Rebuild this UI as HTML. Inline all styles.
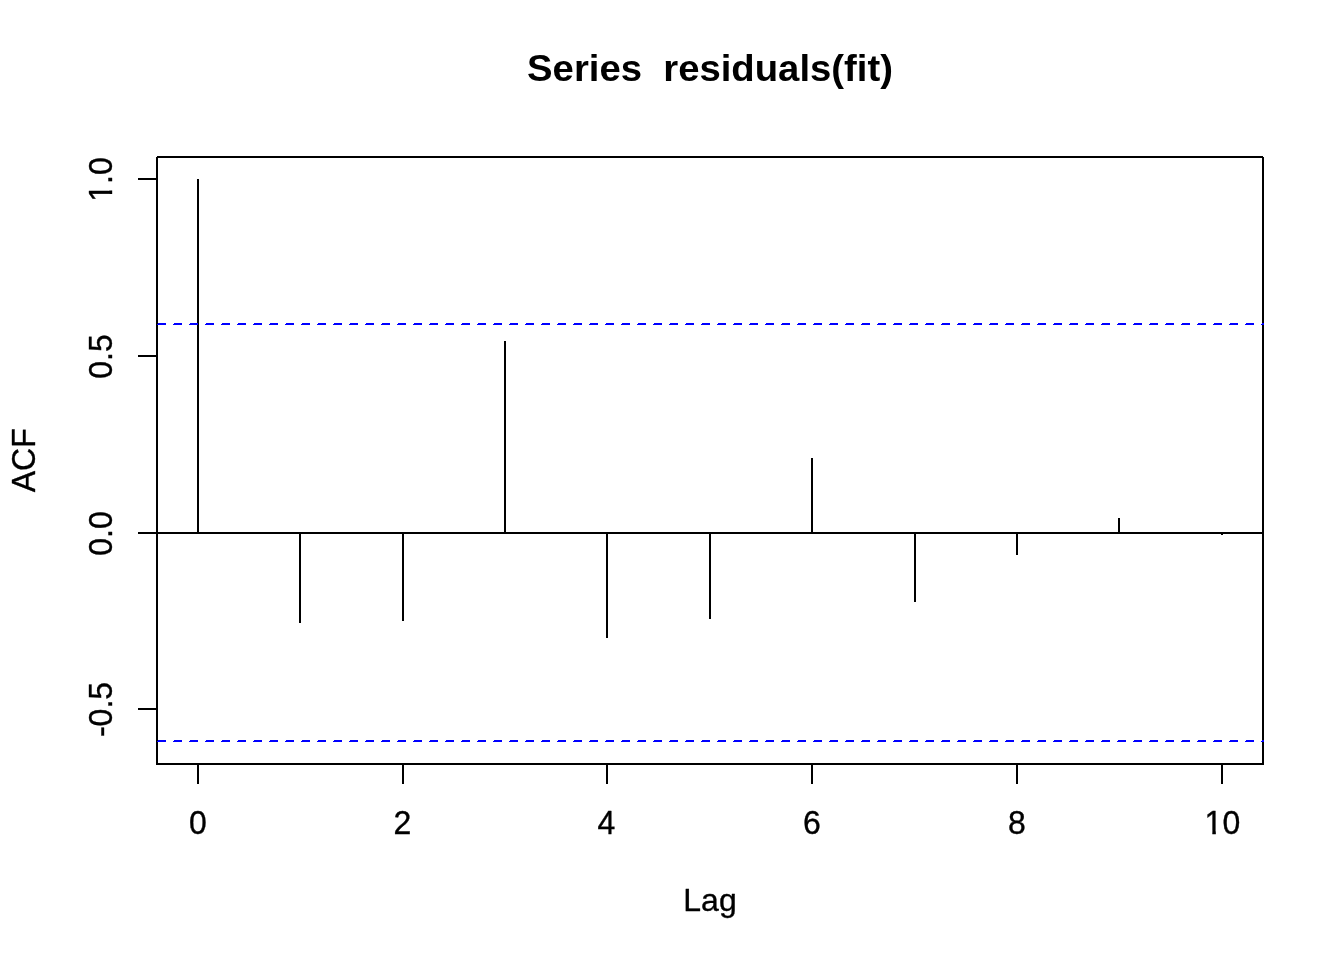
<!DOCTYPE html>
<html lang="en"><head><meta charset="utf-8"><title>Series residuals(fit)</title>
<style>
html,body{margin:0;padding:0;background:#fff;}
body{width:1344px;height:960px;overflow:hidden;}
svg{display:block;}
text{font-family:"Liberation Sans",sans-serif;fill:#000;}
.ax{font-size:32px;stroke:#000;stroke-width:0.35px;stroke-linejoin:round;}
.ttl{font-size:37.33px;font-weight:bold;white-space:pre;}
</style></head><body>
<svg width="1344" height="960" viewBox="0 0 1344 960">
<defs>
<!-- trims the foot serif of the digit 1 so it reads like the reference face -->
<clipPath id="c10"><rect x="-20" y="-30" width="40" height="26.8"/><rect x="-10.05" y="-5" width="3.45" height="6"/><rect x="-0.6" y="-5" width="22" height="7"/></clipPath>
<clipPath id="c1p0"><rect x="-25" y="-30" width="50" height="26.8"/><rect x="-14.5" y="-5" width="3.45" height="6"/><rect x="-5" y="-5" width="30" height="7"/></clipPath>
</defs>
<rect x="0" y="0" width="1344" height="960" fill="#fff"/>
<g shape-rendering="crispEdges">
<g fill="#000">
<rect x="197" y="179" width="2" height="354"/>
<rect x="299" y="533" width="2" height="90"/>
<rect x="402" y="533" width="2" height="88"/>
<rect x="504" y="341" width="2" height="192"/>
<rect x="606" y="533" width="2" height="105"/>
<rect x="709" y="533" width="2" height="86"/>
<rect x="811" y="458" width="2" height="75"/>
<rect x="914" y="533" width="2" height="69"/>
<rect x="1016" y="533" width="2" height="22"/>
<rect x="1118" y="518" width="2" height="15"/>
<rect x="1221" y="533" width="2" height="2"/>
<rect x="156" y="532" width="1107" height="2"/>
<rect x="157" y="156" width="1106" height="1"/>
<rect x="156" y="157" width="1108" height="1"/>
<rect x="156" y="763" width="1108" height="2"/>
<rect x="156" y="157" width="2" height="608"/>
<rect x="1262" y="157" width="2" height="608"/>
<rect x="197" y="763" width="2" height="21"/>
<rect x="402" y="763" width="2" height="21"/>
<rect x="606" y="763" width="2" height="21"/>
<rect x="811" y="763" width="2" height="21"/>
<rect x="1016" y="763" width="2" height="21"/>
<rect x="1221" y="763" width="2" height="21"/>
<rect x="138" y="178" width="20" height="2"/>
<rect x="138" y="355" width="20" height="2"/>
<rect x="138" y="532" width="20" height="2"/>
<rect x="138" y="708" width="20" height="2"/>
</g>
<g fill="#0000ff"><rect x="158" y="323" width="8" height="1"/><rect x="157" y="324" width="9" height="1"/><rect x="174" y="323" width="8" height="1"/><rect x="173" y="324" width="9" height="1"/><rect x="190" y="323" width="8" height="1"/><rect x="189" y="324" width="9" height="1"/><rect x="206" y="323" width="8" height="1"/><rect x="205" y="324" width="9" height="1"/><rect x="222" y="323" width="8" height="1"/><rect x="221" y="324" width="9" height="1"/><rect x="238" y="323" width="8" height="1"/><rect x="237" y="324" width="9" height="1"/><rect x="254" y="323" width="8" height="1"/><rect x="253" y="324" width="9" height="1"/><rect x="270" y="323" width="8" height="1"/><rect x="269" y="324" width="9" height="1"/><rect x="286" y="323" width="8" height="1"/><rect x="285" y="324" width="9" height="1"/><rect x="302" y="323" width="8" height="1"/><rect x="301" y="324" width="9" height="1"/><rect x="318" y="323" width="8" height="1"/><rect x="317" y="324" width="9" height="1"/><rect x="334" y="323" width="8" height="1"/><rect x="333" y="324" width="9" height="1"/><rect x="350" y="323" width="8" height="1"/><rect x="349" y="324" width="9" height="1"/><rect x="366" y="323" width="8" height="1"/><rect x="365" y="324" width="9" height="1"/><rect x="382" y="323" width="8" height="1"/><rect x="381" y="324" width="9" height="1"/><rect x="398" y="323" width="8" height="1"/><rect x="397" y="324" width="9" height="1"/><rect x="414" y="323" width="8" height="1"/><rect x="413" y="324" width="9" height="1"/><rect x="430" y="323" width="8" height="1"/><rect x="429" y="324" width="9" height="1"/><rect x="446" y="323" width="8" height="1"/><rect x="445" y="324" width="9" height="1"/><rect x="462" y="323" width="8" height="1"/><rect x="461" y="324" width="9" height="1"/><rect x="478" y="323" width="8" height="1"/><rect x="477" y="324" width="9" height="1"/><rect x="494" y="323" width="8" height="1"/><rect x="493" y="324" width="9" height="1"/><rect x="510" y="323" width="8" height="1"/><rect x="509" y="324" width="9" height="1"/><rect x="526" y="323" width="8" height="1"/><rect x="525" y="324" width="9" height="1"/><rect x="542" y="323" width="8" height="1"/><rect x="541" y="324" width="9" height="1"/><rect x="558" y="323" width="8" height="1"/><rect x="557" y="324" width="9" height="1"/><rect x="574" y="323" width="8" height="1"/><rect x="573" y="324" width="9" height="1"/><rect x="590" y="323" width="8" height="1"/><rect x="589" y="324" width="9" height="1"/><rect x="606" y="323" width="8" height="1"/><rect x="605" y="324" width="9" height="1"/><rect x="622" y="323" width="8" height="1"/><rect x="621" y="324" width="9" height="1"/><rect x="638" y="323" width="8" height="1"/><rect x="637" y="324" width="9" height="1"/><rect x="654" y="323" width="8" height="1"/><rect x="653" y="324" width="9" height="1"/><rect x="670" y="323" width="8" height="1"/><rect x="669" y="324" width="9" height="1"/><rect x="686" y="323" width="8" height="1"/><rect x="685" y="324" width="9" height="1"/><rect x="702" y="323" width="8" height="1"/><rect x="701" y="324" width="9" height="1"/><rect x="718" y="323" width="8" height="1"/><rect x="717" y="324" width="9" height="1"/><rect x="734" y="323" width="8" height="1"/><rect x="733" y="324" width="9" height="1"/><rect x="750" y="323" width="8" height="1"/><rect x="749" y="324" width="9" height="1"/><rect x="766" y="323" width="8" height="1"/><rect x="765" y="324" width="9" height="1"/><rect x="782" y="323" width="8" height="1"/><rect x="781" y="324" width="9" height="1"/><rect x="798" y="323" width="8" height="1"/><rect x="797" y="324" width="9" height="1"/><rect x="814" y="323" width="8" height="1"/><rect x="813" y="324" width="9" height="1"/><rect x="830" y="323" width="8" height="1"/><rect x="829" y="324" width="9" height="1"/><rect x="846" y="323" width="8" height="1"/><rect x="845" y="324" width="9" height="1"/><rect x="862" y="323" width="8" height="1"/><rect x="861" y="324" width="9" height="1"/><rect x="878" y="323" width="8" height="1"/><rect x="877" y="324" width="9" height="1"/><rect x="894" y="323" width="8" height="1"/><rect x="893" y="324" width="9" height="1"/><rect x="910" y="323" width="8" height="1"/><rect x="909" y="324" width="9" height="1"/><rect x="926" y="323" width="8" height="1"/><rect x="925" y="324" width="9" height="1"/><rect x="942" y="323" width="8" height="1"/><rect x="941" y="324" width="9" height="1"/><rect x="958" y="323" width="8" height="1"/><rect x="957" y="324" width="9" height="1"/><rect x="974" y="323" width="8" height="1"/><rect x="973" y="324" width="9" height="1"/><rect x="990" y="323" width="8" height="1"/><rect x="989" y="324" width="9" height="1"/><rect x="1006" y="323" width="8" height="1"/><rect x="1005" y="324" width="9" height="1"/><rect x="1022" y="323" width="8" height="1"/><rect x="1021" y="324" width="9" height="1"/><rect x="1038" y="323" width="8" height="1"/><rect x="1037" y="324" width="9" height="1"/><rect x="1054" y="323" width="8" height="1"/><rect x="1053" y="324" width="9" height="1"/><rect x="1070" y="323" width="8" height="1"/><rect x="1069" y="324" width="9" height="1"/><rect x="1086" y="323" width="8" height="1"/><rect x="1085" y="324" width="9" height="1"/><rect x="1102" y="323" width="8" height="1"/><rect x="1101" y="324" width="9" height="1"/><rect x="1118" y="323" width="8" height="1"/><rect x="1117" y="324" width="9" height="1"/><rect x="1134" y="323" width="8" height="1"/><rect x="1133" y="324" width="9" height="1"/><rect x="1150" y="323" width="8" height="1"/><rect x="1149" y="324" width="9" height="1"/><rect x="1166" y="323" width="8" height="1"/><rect x="1165" y="324" width="9" height="1"/><rect x="1182" y="323" width="8" height="1"/><rect x="1181" y="324" width="9" height="1"/><rect x="1198" y="323" width="8" height="1"/><rect x="1197" y="324" width="9" height="1"/><rect x="1214" y="323" width="8" height="1"/><rect x="1213" y="324" width="9" height="1"/><rect x="1230" y="323" width="8" height="1"/><rect x="1229" y="324" width="9" height="1"/><rect x="1246" y="323" width="8" height="1"/><rect x="1245" y="324" width="9" height="1"/><rect x="1262" y="323" width="2" height="1"/><rect x="1261" y="324" width="3" height="1"/></g>
<g fill="#0000ff"><rect x="158" y="740" width="8" height="1"/><rect x="157" y="741" width="9" height="1"/><rect x="174" y="740" width="8" height="1"/><rect x="173" y="741" width="9" height="1"/><rect x="190" y="740" width="8" height="1"/><rect x="189" y="741" width="9" height="1"/><rect x="206" y="740" width="8" height="1"/><rect x="205" y="741" width="9" height="1"/><rect x="222" y="740" width="8" height="1"/><rect x="221" y="741" width="9" height="1"/><rect x="238" y="740" width="8" height="1"/><rect x="237" y="741" width="9" height="1"/><rect x="254" y="740" width="8" height="1"/><rect x="253" y="741" width="9" height="1"/><rect x="270" y="740" width="8" height="1"/><rect x="269" y="741" width="9" height="1"/><rect x="286" y="740" width="8" height="1"/><rect x="285" y="741" width="9" height="1"/><rect x="302" y="740" width="8" height="1"/><rect x="301" y="741" width="9" height="1"/><rect x="318" y="740" width="8" height="1"/><rect x="317" y="741" width="9" height="1"/><rect x="334" y="740" width="8" height="1"/><rect x="333" y="741" width="9" height="1"/><rect x="350" y="740" width="8" height="1"/><rect x="349" y="741" width="9" height="1"/><rect x="366" y="740" width="8" height="1"/><rect x="365" y="741" width="9" height="1"/><rect x="382" y="740" width="8" height="1"/><rect x="381" y="741" width="9" height="1"/><rect x="398" y="740" width="8" height="1"/><rect x="397" y="741" width="9" height="1"/><rect x="414" y="740" width="8" height="1"/><rect x="413" y="741" width="9" height="1"/><rect x="430" y="740" width="8" height="1"/><rect x="429" y="741" width="9" height="1"/><rect x="446" y="740" width="8" height="1"/><rect x="445" y="741" width="9" height="1"/><rect x="462" y="740" width="8" height="1"/><rect x="461" y="741" width="9" height="1"/><rect x="478" y="740" width="8" height="1"/><rect x="477" y="741" width="9" height="1"/><rect x="494" y="740" width="8" height="1"/><rect x="493" y="741" width="9" height="1"/><rect x="510" y="740" width="8" height="1"/><rect x="509" y="741" width="9" height="1"/><rect x="526" y="740" width="8" height="1"/><rect x="525" y="741" width="9" height="1"/><rect x="542" y="740" width="8" height="1"/><rect x="541" y="741" width="9" height="1"/><rect x="558" y="740" width="8" height="1"/><rect x="557" y="741" width="9" height="1"/><rect x="574" y="740" width="8" height="1"/><rect x="573" y="741" width="9" height="1"/><rect x="590" y="740" width="8" height="1"/><rect x="589" y="741" width="9" height="1"/><rect x="606" y="740" width="8" height="1"/><rect x="605" y="741" width="9" height="1"/><rect x="622" y="740" width="8" height="1"/><rect x="621" y="741" width="9" height="1"/><rect x="638" y="740" width="8" height="1"/><rect x="637" y="741" width="9" height="1"/><rect x="654" y="740" width="8" height="1"/><rect x="653" y="741" width="9" height="1"/><rect x="670" y="740" width="8" height="1"/><rect x="669" y="741" width="9" height="1"/><rect x="686" y="740" width="8" height="1"/><rect x="685" y="741" width="9" height="1"/><rect x="702" y="740" width="8" height="1"/><rect x="701" y="741" width="9" height="1"/><rect x="718" y="740" width="8" height="1"/><rect x="717" y="741" width="9" height="1"/><rect x="734" y="740" width="8" height="1"/><rect x="733" y="741" width="9" height="1"/><rect x="750" y="740" width="8" height="1"/><rect x="749" y="741" width="9" height="1"/><rect x="766" y="740" width="8" height="1"/><rect x="765" y="741" width="9" height="1"/><rect x="782" y="740" width="8" height="1"/><rect x="781" y="741" width="9" height="1"/><rect x="798" y="740" width="8" height="1"/><rect x="797" y="741" width="9" height="1"/><rect x="814" y="740" width="8" height="1"/><rect x="813" y="741" width="9" height="1"/><rect x="830" y="740" width="8" height="1"/><rect x="829" y="741" width="9" height="1"/><rect x="846" y="740" width="8" height="1"/><rect x="845" y="741" width="9" height="1"/><rect x="862" y="740" width="8" height="1"/><rect x="861" y="741" width="9" height="1"/><rect x="878" y="740" width="8" height="1"/><rect x="877" y="741" width="9" height="1"/><rect x="894" y="740" width="8" height="1"/><rect x="893" y="741" width="9" height="1"/><rect x="910" y="740" width="8" height="1"/><rect x="909" y="741" width="9" height="1"/><rect x="926" y="740" width="8" height="1"/><rect x="925" y="741" width="9" height="1"/><rect x="942" y="740" width="8" height="1"/><rect x="941" y="741" width="9" height="1"/><rect x="958" y="740" width="8" height="1"/><rect x="957" y="741" width="9" height="1"/><rect x="974" y="740" width="8" height="1"/><rect x="973" y="741" width="9" height="1"/><rect x="990" y="740" width="8" height="1"/><rect x="989" y="741" width="9" height="1"/><rect x="1006" y="740" width="8" height="1"/><rect x="1005" y="741" width="9" height="1"/><rect x="1022" y="740" width="8" height="1"/><rect x="1021" y="741" width="9" height="1"/><rect x="1038" y="740" width="8" height="1"/><rect x="1037" y="741" width="9" height="1"/><rect x="1054" y="740" width="8" height="1"/><rect x="1053" y="741" width="9" height="1"/><rect x="1070" y="740" width="8" height="1"/><rect x="1069" y="741" width="9" height="1"/><rect x="1086" y="740" width="8" height="1"/><rect x="1085" y="741" width="9" height="1"/><rect x="1102" y="740" width="8" height="1"/><rect x="1101" y="741" width="9" height="1"/><rect x="1118" y="740" width="8" height="1"/><rect x="1117" y="741" width="9" height="1"/><rect x="1134" y="740" width="8" height="1"/><rect x="1133" y="741" width="9" height="1"/><rect x="1150" y="740" width="8" height="1"/><rect x="1149" y="741" width="9" height="1"/><rect x="1166" y="740" width="8" height="1"/><rect x="1165" y="741" width="9" height="1"/><rect x="1182" y="740" width="8" height="1"/><rect x="1181" y="741" width="9" height="1"/><rect x="1198" y="740" width="8" height="1"/><rect x="1197" y="741" width="9" height="1"/><rect x="1214" y="740" width="8" height="1"/><rect x="1213" y="741" width="9" height="1"/><rect x="1230" y="740" width="8" height="1"/><rect x="1229" y="741" width="9" height="1"/><rect x="1246" y="740" width="8" height="1"/><rect x="1245" y="741" width="9" height="1"/><rect x="1262" y="740" width="2" height="1"/><rect x="1261" y="741" width="3" height="1"/></g>
</g>
<text class="ax" transform="translate(197.95 834) scale(1 1.045)" text-anchor="middle">0</text>
<text class="ax" transform="translate(402.5 834) scale(1 1.045)" text-anchor="middle">2</text>
<text class="ax" transform="translate(606.5 834) scale(1 1.045)" text-anchor="middle">4</text>
<text class="ax" transform="translate(811.8 834) scale(1 1.045)" text-anchor="middle">6</text>
<text class="ax" transform="translate(1017.0 834) scale(1 1.045)" text-anchor="middle">8</text>
<text class="ax" transform="translate(1222.4 834) scale(1 1.045)" text-anchor="middle" clip-path="url(#c10)">10</text>
<text class="ax" transform="translate(112 179.5) rotate(-90) scale(1 1.045)" text-anchor="middle" clip-path="url(#c1p0)">1.0</text>
<text class="ax" transform="translate(112 356.5) rotate(-90) scale(1 1.045)" text-anchor="middle">0.5</text>
<text class="ax" transform="translate(112 533.5) rotate(-90) scale(1 1.045)" text-anchor="middle">0.0</text>
<text class="ax" transform="translate(112 709.5) rotate(-90) scale(1 1.045)" text-anchor="middle">-0.5</text>
<text class="ttl" transform="translate(710 81) scale(1.0255 1)" text-anchor="middle" xml:space="preserve">Series  residuals(fit)</text>
<text class="ax" transform="translate(710 911) scale(1 1.005)" text-anchor="middle">Lag</text>
<text class="ax" transform="translate(34.5 460.3) rotate(-90) scale(1 1.045)" text-anchor="middle">ACF</text>
</svg>
</body></html>
